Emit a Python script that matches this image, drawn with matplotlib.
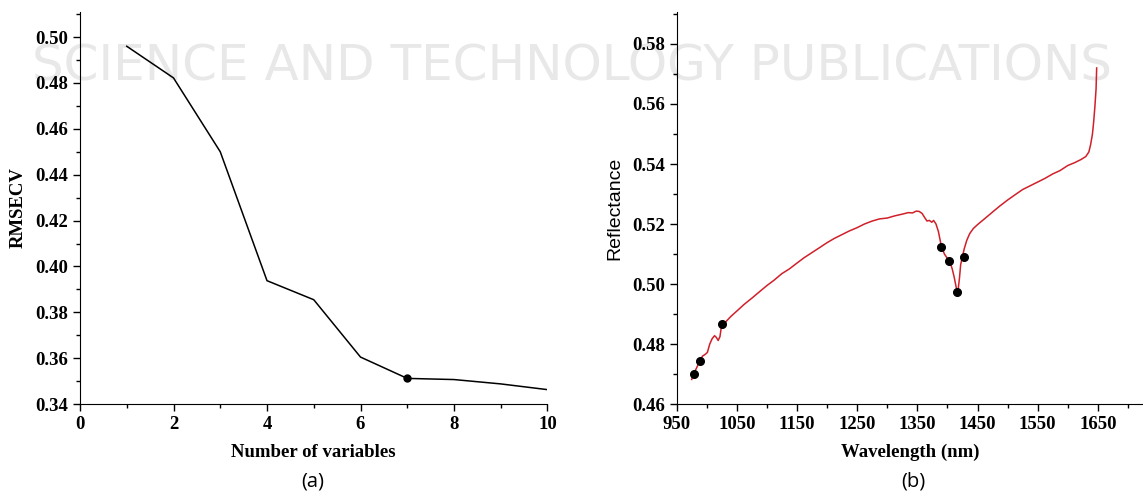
import matplotlib.pyplot as plt
from matplotlib.ticker import MultipleLocator

# (a) RMSECV vs number of variables
n_vars = [1, 2, 3, 4, 5, 6, 7, 8, 9, 10]
rmsecv = [0.496, 0.4822, 0.450, 0.3938, 0.3855, 0.3605, 0.3512, 0.3507, 0.3488, 0.3463]
best_n = [7]
best_rmsecv = [0.3512]

# (b) reflectance spectrum
wavelength = [975, 978, 983, 988, 993, 997, 1001, 1005, 1009, 1013, 1016, 1019, 1022, 1025, 1028,
              1032, 1040, 1050, 1062, 1075, 1088, 1100, 1112, 1125, 1137, 1150, 1162, 1175,
              1188, 1200, 1212, 1225, 1237, 1250, 1262, 1275, 1287, 1300, 1312, 1325, 1335,
              1342, 1348, 1353, 1358, 1362, 1366, 1370, 1374, 1377, 1381, 1385, 1390, 1395,
              1400, 1404, 1408, 1411, 1414, 1416, 1418, 1420, 1422, 1425, 1428, 1432, 1437,
              1443, 1450, 1462, 1475, 1487, 1500, 1512, 1525, 1537, 1550, 1562, 1575, 1587,
              1600, 1612, 1622, 1630, 1635, 1638, 1641, 1643, 1645, 1647, 1648]
reflectance = [0.4682, 0.4700, 0.4720, 0.4742, 0.4760, 0.4765, 0.4772, 0.4800, 0.4818, 0.4828,
               0.4822, 0.4812, 0.4825, 0.4868, 0.4855, 0.4875, 0.4892, 0.4910, 0.4932, 0.4953,
               0.4975, 0.4995, 0.5013, 0.5035, 0.5050, 0.5070, 0.5088, 0.5105, 0.5122, 0.5138,
               0.5152, 0.5165, 0.5177, 0.5188, 0.5200, 0.5210, 0.5217, 0.5220, 0.5227, 0.5233,
               0.5238, 0.5237, 0.5243, 0.5242, 0.5235, 0.5222, 0.5210, 0.5212, 0.5206, 0.5212,
               0.5200, 0.5175, 0.5125, 0.5100, 0.5085, 0.5075, 0.5050, 0.5025, 0.4995, 0.4975,
               0.4985, 0.5020, 0.5065, 0.5092, 0.5118, 0.5145, 0.5168, 0.5185, 0.5198, 0.5218,
               0.5240, 0.5260, 0.5280, 0.5297, 0.5315, 0.5327, 0.5340, 0.5352, 0.5367, 0.5378,
               0.5395, 0.5405, 0.5415, 0.5425, 0.5440, 0.5465, 0.5500, 0.5540, 0.5590, 0.5650,
               0.5720]
sel_wl = [978, 988, 1025, 1390, 1403, 1416, 1427]
sel_refl = [0.4700, 0.4742, 0.4868, 0.5122, 0.5078, 0.4972, 0.5091]

x1_ticks = [0, 2, 4, 6, 8, 10]
y1_ticks = [0.34, 0.36, 0.38, 0.40, 0.42, 0.44, 0.46, 0.48, 0.50]
x2_ticks = [950, 1050, 1150, 1250, 1350, 1450, 1550, 1650]
y2_ticks = [0.46, 0.48, 0.50, 0.52, 0.54, 0.56, 0.58]

serif = 'Liberation Serif'
tick_fs = 13.5

fig = plt.figure(figsize=(11.43, 4.94), dpi=100)

# faint watermark behind the panels
fig.text(0.5, 0.866, 'SCIENCE AND TECHNOLOGY PUBLICATIONS', ha='center', va='center',
         fontsize=36, color='#e8e8e8', family='DejaVu Sans', zorder=-5)

ax1 = fig.add_axes([0.070, 0.182, 0.409, 0.794])
ax2 = fig.add_axes([0.592, 0.182, 0.408, 0.794])
for ax in (ax1, ax2):
    ax.patch.set_alpha(0)
    ax.spines['top'].set_visible(False)
    ax.spines['right'].set_visible(False)
    ax.tick_params(which='both', direction='out', width=1)
    ax.tick_params(which='major', length=5)
    ax.tick_params(which='minor', length=3)

ax1.plot(n_vars, rmsecv, color='black', lw=1.1)
ax1.plot(best_n, best_rmsecv, 'o', color='black', ms=5)
ax1.xaxis.set_minor_locator(MultipleLocator(1))
ax1.yaxis.set_minor_locator(MultipleLocator(0.01))
ax1.set_xticks(x1_ticks)
ax1.set_xticklabels([str(v) for v in x1_ticks], family=serif, weight='bold', size=tick_fs)
ax1.set_yticks(y1_ticks)
ax1.set_yticklabels(['%.2f' % v for v in y1_ticks], family=serif, weight='bold', size=tick_fs)
ax1.set_xlim(0, 10)
ax1.set_ylim(0.34, 0.511)
ax1.set_xlabel('Number of variables', family=serif, weight='bold', fontsize=13.5, labelpad=8)
ax1.set_ylabel('RMSECV', family=serif, weight='bold', fontsize=13.5, labelpad=6)

ax2.plot(wavelength, reflectance, color='#d0202a', lw=1.1)
ax2.plot(sel_wl, sel_refl, 'o', color='black', ms=5.5)
ax2.xaxis.set_minor_locator(MultipleLocator(50))
ax2.yaxis.set_minor_locator(MultipleLocator(0.01))
ax2.set_xticks(x2_ticks)
ax2.set_xticklabels([str(v) for v in x2_ticks], family=serif, weight='bold', size=tick_fs)
ax2.set_yticks(y2_ticks)
ax2.set_yticklabels(['%.2f' % v for v in y2_ticks], family=serif, weight='bold', size=tick_fs)
ax2.set_xlim(950, 1725)
ax2.set_ylim(0.46, 0.5907)
ax2.set_xlabel('Wavelength (nm)', family=serif, weight='bold', fontsize=13.5, labelpad=8)
ax2.set_ylabel('Reflectance', family='Liberation Sans', fontsize=14, labelpad=6)

fig.text(0.274, 0.026, '(a)', ha='center', va='center', fontsize=14.5, family='Open Sans')
fig.text(0.799, 0.026, '(b)', ha='center', va='center', fontsize=14.5, family='Open Sans')

fig.savefig('out.png', dpi=100)
